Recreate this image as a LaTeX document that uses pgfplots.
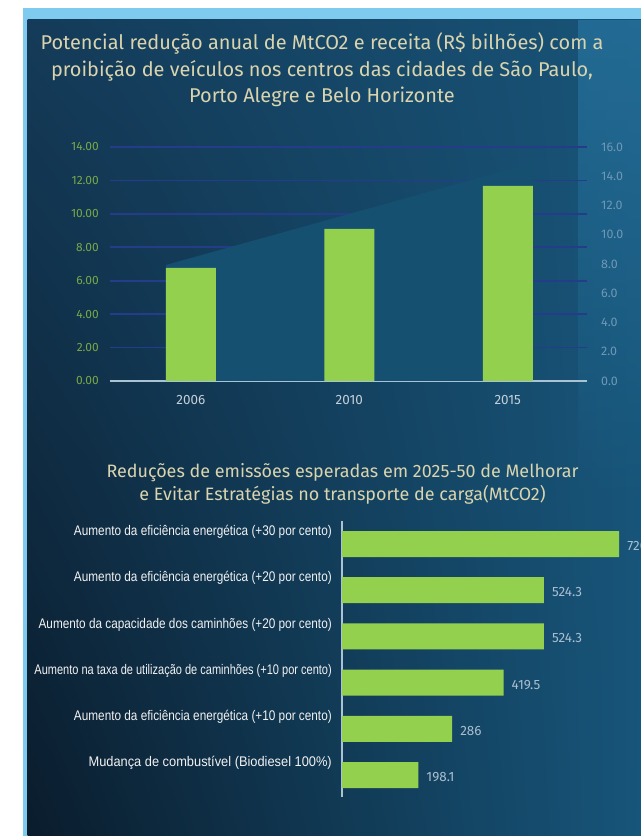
\documentclass[border=0pt]{standalone}
\usepackage{pgfplots}
\pgfplotsset{compat=1.18}
\usepackage{pgfplotstable}
\usepackage{fontspec}
\usetikzlibrary{fadings,shadings}
\setmainfont{Fira Sans}
\newfontfamily\titlefont{Fira Sans}
\newfontfamily\narrowA[FakeStretch=0.845]{Liberation Sans}
\newfontfamily\narrowB[FakeStretch=0.79]{Liberation Sans}
\newfontfamily\narrowC[FakeStretch=0.92]{Liberation Sans}
\definecolor{strip}{HTML}{7FCBF0}
\definecolor{bgUL}{HTML}{143B59}
\definecolor{bgUR}{HTML}{185478}
\definecolor{bgLL}{HTML}{0A1C2C}
\definecolor{bgLR}{HTML}{17557A}
\definecolor{lightband}{HTML}{2A7BA8}
\definecolor{wedge}{HTML}{155070}
\definecolor{gridcol}{HTML}{243C8A}
\definecolor{basecol}{HTML}{A9C2D4}
\definecolor{barg}{HTML}{93D04E}
\definecolor{titlecol}{HTML}{D9D4AE}
\definecolor{ltick}{HTML}{78A848}
\definecolor{rtick}{HTML}{6E98B6}
\definecolor{xtickc}{HTML}{C5D0D8}
\definecolor{vallab}{HTML}{AABECF}
\definecolor{catlab}{HTML}{F2F2F2}

\pgfplotstableread{
x y
0 6.77
1 9.10
2 11.68
}\topdata
\pgfplotstableread{
idx val
0 720
1 524.3
2 524.3
3 419.5
4 286
5 198.1
}\botdata

\pgfplotsset{topframe/.style={
  at={(110bp,455bp)}, anchor=south west, scale only axis,
  width=477bp, height=234bp, xmin=-0.51, xmax=2.5, ymin=0,
  major tick length=0pt,
  /pgf/number format/assume math mode=true}}

\begin{document}
\begin{tikzpicture}[x=1bp,y=1bp]
\useasboundingbox (0,0) rectangle (641,836);
\clip (0,0) rectangle (641,836);
\fill[white] (0,0) rectangle (641,836);
\fill[strip] (22.5,0) rectangle (641,828);
\shade[upper left=bgUL, upper right=bgUR, lower left=bgLL, lower right=bgLR] (27.5,0) rectangle (641,816);
\fill[lightband, opacity=0.6, path fading=south] (578,330) rectangle (641,816);

\node[align=center, text=titlecol, font=\titlefont\fontsize{20}{26.5}\selectfont] at (322,766)
 {Potencial redução anual de MtCO2 e receita (R\$ bilhões) com a\\proibição de veículos nos centros das cidades de São Paulo,\\Porto Alegre e Belo Horizonte};
\node[align=center, text=titlecol, font=\titlefont\fontsize{18}{22.5}\selectfont] at (342.5,352)
 {Reduções de emissões esperadas em 2025-50 de Melhorar\\e Evitar Estratégias no transporte de carga(MtCO2)};

% grid and left tick labels
\begin{axis}[topframe, ymax=14,
  ytick={0,2,4,6,8,10,12,14}, xtick=\empty,
  axis x line=none, axis y line*=left,
  y axis line style={draw=none},
  ymajorgrids, major grid style={draw=gridcol, line width=1.8bp},
  yticklabel style={font=\fontsize{12}{12}\selectfont, text=ltick, inner sep=0pt, anchor=east, xshift=-11bp, /pgf/number format/.cd, fixed, fixed zerofill, precision=2},
]
\addplot[draw=none, forget plot] table[x=x, y=y] {\topdata};
\end{axis}

% wedge, bars, baseline, year labels
\begin{axis}[topframe, ymax=14,
  ytick=\empty,
  xtick={0,1,2}, xticklabels={2006,2010,2015},
  axis x line*=bottom, axis y line=none,
  x axis line style={-, draw=basecol, line width=2bp},
  xticklabel style={font=\fontsize{13.5}{13.5}\selectfont, text=xtickc, yshift=-11bp},
]
\fill[wedge] (axis cs:-0.158,0) -- (axis cs:-0.158,6.94) -- (axis cs:2.158,13.05) -- (axis cs:2.158,0) -- cycle;
\addplot[ybar, bar width=50bp, fill=barg, draw=none] table[x=x, y=y] {\topdata};
\end{axis}

% right-hand scale
\begin{axis}[topframe, ymax=16,
  ytick={0,2,4,6,8,10,12,14,16},
  axis y line*=right, axis x line=none,
  y axis line style={draw=none},
  yticklabel style={font=\fontsize{12.5}{12.5}\selectfont, text=rtick, inner sep=0pt, anchor=west, xshift=14bp, /pgf/number format/.cd, fixed, fixed zerofill, precision=1},
]
\addplot[draw=none, forget plot] table[x=x, y=y] {\topdata};
\end{axis}

\begin{axis}[
  at={(342bp,39bp)}, anchor=south west, scale only axis,
  width=299bp, height=276bp,
  xbar, bar width=26bp,
  xmin=0, xmax=776.6,
  ymin=-0.498, ymax=5.476, y dir=reverse,
  ytick={0,1,2,3,4,5},
  yticklabels={{Aumento da eficiência energética (+30 por cento)},
               {Aumento da eficiência energética (+20 por cento)},
               {Aumento da capacidade dos caminhões (+20 por cento)},
               {\narrowB Aumento na taxa de utilização de caminhões (+10 por cento)},
               {Aumento da eficiência energética (+10 por cento)},
               {\narrowC Mudança de combustível (Biodiesel 100\%)}},
  axis y line*=left, axis x line=none,
  y axis line style={-, draw=basecol, line width=1.5bp},
  major tick length=0pt,
  yticklabel style={font=\narrowA\fontsize{14}{14}\selectfont, text=catlab, anchor=east, inner sep=0pt, xshift=-10bp, yshift=12bp},
  nodes near coords, point meta=x,
  nodes near coords style={font=\fontsize{13.5}{13.5}\selectfont, text=vallab, anchor=west, inner sep=0pt, xshift=8bp, yshift=-2bp},
  /pgf/number format/assume math mode=true,
  clip=false,
]
\addplot[fill=barg, draw=none] table[x=val, y=idx] {\botdata};
\end{axis}
\end{tikzpicture}
\end{document}
